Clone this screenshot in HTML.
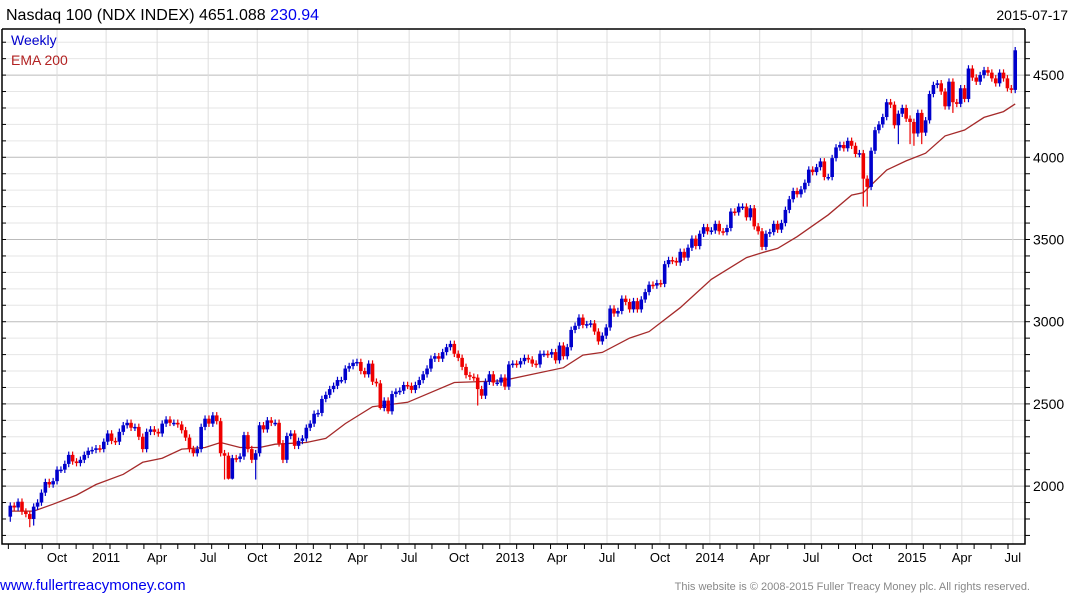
<!DOCTYPE html>
<html><head><meta charset="utf-8"><style>
body{margin:0;background:#fff;width:1075px;height:600px;overflow:hidden;font-family:"Liberation Sans",Arial,sans-serif}
svg{display:block}
</style></head><body>
<svg id="c" width="1075" height="600">
<text x="6" y="20" font-size="16" fill="#000">Nasdaq 100 (NDX INDEX) 4651.088 <tspan fill="#0000ee">230.94</tspan></text>
<text x="1068" y="20" font-size="14" text-anchor="end" fill="#000">2015-07-17</text>
<g id="grid"></g>
<g id="ema"></g>
<g id="candles"></g>
<g id="axes"></g>
<text x="11" y="45" font-size="14" fill="#0000cc">Weekly</text>
<text x="11" y="65" font-size="14" fill="#b22222">EMA 200</text>
<text x="0" y="590" font-size="15" fill="#0000ee">www.fullertreacymoney.com</text>
<text x="1030" y="590" font-size="11" fill="#888" text-anchor="end">This website is © 2008-2015 Fuller Treacy Money plc. All rights reserved.</text>
</svg>
<script>
const firstOpen = 1814;
const closes = [1881,1870,1905,1845,1830,1800,1875,1900,1960,2025,
2010,2030,2100,2100,2135,2190,2150,2140,2160,2190,
2215,2220,2230,2225,2270,2320,2275,2270,2330,2370,
2385,2355,2360,2300,2225,2330,2345,2330,2320,2380,
2405,2385,2385,2375,2340,2295,2225,2200,2225,2360,
2410,2380,2430,2395,2200,2185,2045,2170,2165,2180,
2310,2225,2160,2200,2370,2345,2400,2385,2385,2260,
2160,2305,2320,2245,2275,2290,2355,2380,2440,2445,
2530,2555,2590,2610,2645,2645,2715,2730,2750,2755,
2700,2680,2745,2635,2625,2475,2520,2455,2560,2575,
2580,2615,2610,2585,2615,2645,2680,2715,2775,2790,
2775,2815,2845,2865,2805,2780,2725,2675,2665,2660,
2590,2550,2635,2680,2630,2630,2660,2605,2740,2745,
2740,2760,2780,2770,2745,2740,2805,2805,2800,2815,
2765,2855,2790,2845,2950,2975,3025,2980,2985,2990,
2940,2880,2915,2965,3080,3050,3065,3140,3120,3075,
3125,3075,3135,3180,3225,3220,3235,3230,3350,3375,
3370,3360,3425,3390,3450,3505,3460,3535,3575,3550,
3555,3595,3550,3545,3570,3670,3665,3700,3700,3635,
3690,3580,3550,3455,3535,3545,3595,3560,3600,3680,
3745,3795,3775,3805,3845,3925,3910,3940,3975,3880,
3880,3995,4060,4075,4055,4100,4070,4020,4025,3870,
3820,4040,4165,4200,4245,4335,4320,4195,4265,4300,
4235,4215,4145,4270,4150,4225,4385,4440,4450,4400,
4310,4460,4335,4325,4420,4355,4540,4485,4460,4500,
4530,4515,4480,4450,4515,4480,4420,4410,4651];
const longLowIdx = [0,5,6,55,56,57,63,95,97,120,219,220,228,231,232,234,242];
const longLowVal = [1783,1750,1760,2040,2040,2040,2040,2465,2440,2490,3700,3700,4080,4080,4070,4080,4270];
const emaIdx = [0,6,11,17,22,29,34,39,44,50,54,59,64,68,76,81,86,93,102,114,126,133,142,147,152,159,164,172,180,189,193,197,202,210,216,219,225,230,235,240,245,250,255,258];
const emaVal = [1848,1848,1890,1945,2010,2072,2145,2170,2225,2235,2265,2235,2235,2255,2265,2290,2380,2483,2510,2630,2640,2675,2720,2797,2813,2900,2940,3085,3258,3390,3420,3446,3517,3650,3770,3785,3923,3978,4025,4130,4166,4243,4278,4325];
const tickLabels = ["Oct","2011","Apr","Jul","Oct","2012","Apr","Jul","Oct","2013","Apr","Jul","Oct","2014","Apr","Jul","Oct","2015","Apr","Jul"];
const tickWeeks = [12.0,24.6,37.7,50.8,63.4,76.4,89.2,102.4,115.2,128.3,140.4,153.2,166.8,179.6,192.4,205.6,218.7,231.5,244.3,257.4];
const yTicks = [2000,2500,3000,3500,4000,4500];

const NS="http://www.w3.org/2000/svg";
const L=2,R=1025,T=29,B=544;
function xS(i){return 10.3+i*3.895;}
function yS(v){return 157.3-(v-4000)*0.1644;}
function mk(tag,attrs,parent){const e=document.createElementNS(NS,tag);for(const k in attrs)e.setAttribute(k,attrs[k]);parent.appendChild(e);return e;}
const grid=document.getElementById('grid'),axes=document.getElementById('axes'),cg=document.getElementById('candles'),eg=document.getElementById('ema');
for(let v=1700;v<=4800;v+=100){const y=yS(v);if(y<T||y>B)continue;
 const ln=mk('line',{x1:L,x2:R,y1:y,y2:y,stroke:(v%500===0)?'#bbbbbb':'#e6e6e6','stroke-width':1},grid);
 
 
 const tk=mk('line',{x1:L,x2:L+4,y1:y,y2:y,stroke:'#000'},axes);
 
 
 const tk2=mk('line',{x1:R,x2:R+5,y1:y,y2:y,stroke:'#000'},axes);
 
 }
tickWeeks.forEach((w,k)=>{const x=xS(w);
 const ln=mk('line',{x1:x,x2:x,y1:T,y2:B,stroke:'#dddddd'},grid);
 
 
 const t=mk('text',{x:x,y:562,'font-size':13,'text-anchor':'middle',fill:'#000'},axes);t.textContent=tickLabels[k];
 
 });
for(let w=-0.5;w<=259;w+=4.35){const x=xS(w);
 const tk=mk('line',{x1:x,x2:x,y1:B,y2:B+5,stroke:'#000'},axes);
 
 }
yTicks.forEach(v=>{const t=mk('text',{x:1033,y:yS(v)+5,'font-size':14,fill:'#000'},axes);t.textContent=v;
 
 });
const fr=mk('path',{d:`M${L},${T}H${R}M${L},${T}V${B}H${R}V${T}`,stroke:'#000',fill:'none','stroke-width':1.5},axes);


let d='';emaIdx.forEach((i,k)=>{d+=(k?'L':'M')+xS(i).toFixed(1)+','+yS(emaVal[k]).toFixed(1);});
const ep=mk('path',{d:d,stroke:'#a52a2a',fill:'none','stroke-width':1.3},eg);


closes.forEach((c,i)=>{const o=i?closes[i-1]:firstOpen;const up=c>=o;const col=up?'#0000cc':'#ee0000';
 let hi=Math.max(o,c)+20,lo=Math.min(o,c)-20;const li=longLowIdx.indexOf(i);if(li>=0)lo=longLowVal[li];
 const x=xS(i);
 const w=mk('line',{x1:x,x2:x,y1:yS(hi),y2:yS(lo),stroke:col,'stroke-width':1.2},cg);
 
 
 const yt=yS(Math.max(o,c)),yb=yS(Math.min(o,c));
 const r=mk('rect',{x:x-1.8,y:yt,width:3.6,height:Math.max(1.5,yb-yt),fill:col},cg);
 
 });
</script>
</body></html>
